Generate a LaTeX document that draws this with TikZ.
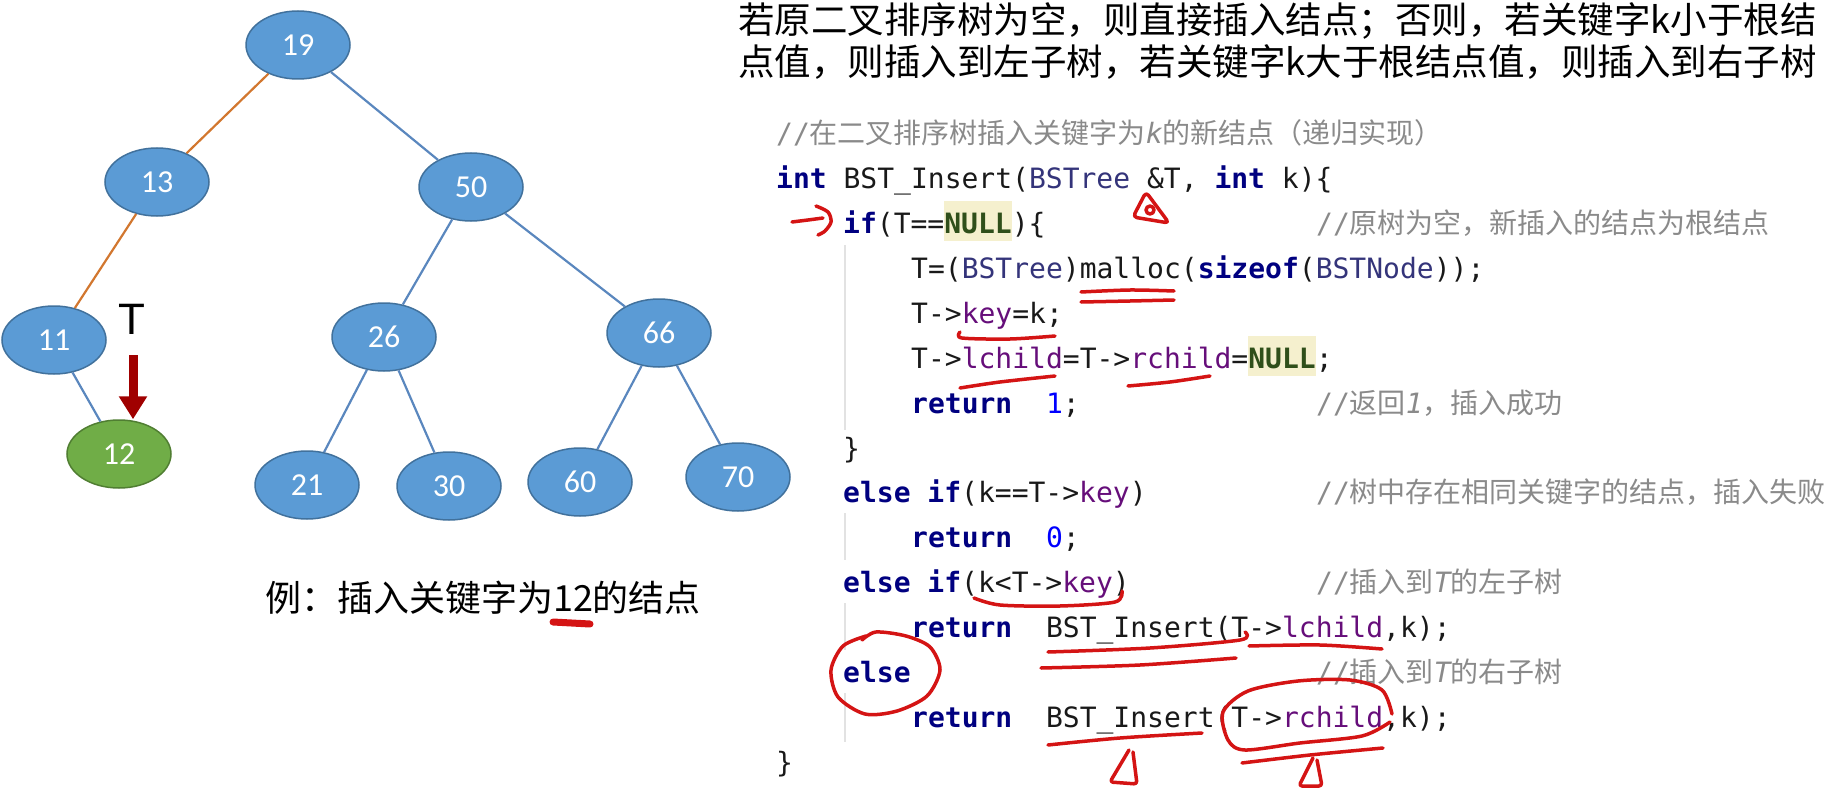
\documentclass[tikz,border=0pt]{standalone}
\usepackage{fontspec}
\newfontfamily\cjk{Noto Sans CJK SC}
\newfontfamily\codefont{DejaVu Sans Mono}
\newfontfamily\numfont{Carlito}
\newfontfamily\labfont{Liberation Sans}
\usetikzlibrary{shapes.geometric}
\usetikzlibrary{arrows.meta}

\definecolor{nodeblue}{HTML}{5B9BD5}
\definecolor{nodeline}{HTML}{41719C}
\definecolor{nodegreen}{HTML}{70AD47}
\definecolor{greenline}{HTML}{507E32}
\definecolor{edgeblue}{HTML}{5A87BE}
\definecolor{edgeorange}{HTML}{D2772F}
\definecolor{arrowred}{HTML}{A00000}
\definecolor{penred}{HTML}{D41414}
\definecolor{kwcol}{HTML}{000080}
\definecolor{tycol}{HTML}{34347A}
\definecolor{fdcol}{HTML}{660E7A}
\definecolor{numcol}{HTML}{0000FF}
\definecolor{nullcol}{HTML}{2F4F1A}
\definecolor{nullbg}{HTML}{F5F0CE}
\definecolor{cmtcol}{HTML}{8A8A8A}
\definecolor{guidecol}{HTML}{E2E2E2}

\begin{document}
\begin{tikzpicture}[x=1pt,y=-1pt,
    bnode/.style={ellipse,draw=nodeline,line width=1.5pt,fill=nodeblue,minimum width=104pt,minimum height=68pt,inner sep=0pt,text=white,font=\numfont\fontsize{32}{34}\selectfont},
    gnode/.style={bnode,draw=greenline,fill=nodegreen},
    bedge/.style={edgeblue,line width=2.2pt},
    oedge/.style={edgeorange,line width=2.2pt},
    tlabel/.style={anchor=base,inner sep=0pt,font=\labfont\fontsize{44}{46}\selectfont},
    tarrow/.style={arrowred,line width=9pt,-{Triangle[width=27pt,length=23pt]}},
    toptext/.style={anchor=base west,inner sep=0pt,font=\cjk\fontsize{36.5}{38}\selectfont},
    caption/.style={anchor=base,inner sep=0pt,font=\cjk\fontsize{36}{38}\selectfont},
    code/.style={anchor=base west,inner sep=0pt,text=black!90,font=\codefont\fontsize{28}{30}\selectfont},
    cmnt/.style={anchor=base west,inner sep=0pt,text=cmtcol,font=\cjk\fontsize{28}{30}\selectfont},
    guide/.style={guidecol,line width=1.5pt},
    redpen/.style={penred,line width=3.5pt,line cap=round,line join=round}]
    \def\kwd#1{{\bfseries\color{kwcol}#1}}
    \def\tyn#1{{\color{tycol}#1}}
    \def\fld#1{{\color{fdcol}#1}}
    \def\numv#1{{\color{numcol}#1}}
    \def\nullv{{\setlength{\fboxsep}{0pt}\colorbox{nullbg}{\rule[-8pt]{0pt}{40pt}\bfseries\color{nullcol}NULL}}}
    \def\sl{{\codefont //}}

    \useasboundingbox (0,0) rectangle (1837,789);

    % Draw the tree
    \node[bnode] (n19) at (298,45) {19};
    \node[bnode] (n13) at (157,182) {13};
    \node[bnode] (n50) at (471,187) {50};
    \node[bnode] (n11) at (54,340) {11};
    \node[gnode] (n12) at (119,454) {12};
    \node[bnode] (n26) at (384,337) {26};
    \node[bnode] (n66) at (659,333) {66};
    \node[bnode] (n21) at (307,485) {21};
    \node[bnode] (n30) at (449,486) {30};
    \node[bnode] (n60) at (580,482) {60};
    \node[bnode] (n70) at (738,477) {70};

    \draw[oedge] (n19) -- (n13);
    \draw[oedge] (n13) -- (n11);
    \draw[bedge] (n19) -- (n50);
    \draw[bedge] (n11) -- (n12);
    \draw[bedge] (n50) -- (n26);
    \draw[bedge] (n50) -- (n66);
    \draw[bedge] (n26) -- (n21);
    \draw[bedge] (n26) -- (n30);
    \draw[bedge] (n66) -- (n60);
    \draw[bedge] (n66) -- (n70);

    % Pointer T
    \node[tlabel] (lblT) at (132,334) {T};
    \coordinate (tstart) at (133,355);
    \draw[tarrow] (tstart) -- (tstart |- n12.north);

    \node[caption] (cap) at (483,611) {例：插入关键字为12的结点};

    % Text above the code
    \node[toptext] (top1) at (738,34) {若原二叉排序树为空，则直接插入结点；否则，若关键字k小于根结};
    \node[toptext] (top2) at (738,76) {点值，则插入到左子树，若关键字k大于根结点值，则插入到右子树};

    % Indent guides
    \draw[guide] (845,245) -- (845,430);
    \draw[guide] (845,513) -- (845,560);
    \draw[guide] (845,603) -- (845,650);
    \draw[guide] (845,693) -- (845,742);

    % The code
    \node[cmnt] (c0) at (776,144) {\sl 在二叉排序树插入关键字为{\codefont\itshape k}的新结点（递归实现）};
    \node[code] (c1) at (776,188) {\kwd{int} BST\_Insert(\tyn{BSTree} \&T, \kwd{int} k)\{};
    \node[code] (c2) at (843,233) {\kwd{if}(T==\nullv)\{};
    \node[code] (c3) at (911,278) {T=(\tyn{BSTree})malloc(\kwd{sizeof}(\tyn{BSTNode}));};
    \node[code] (c4) at (911,323) {T->\fld{key}=k;};
    \node[code] (c5) at (911,368) {T->\fld{lchild}=T->\fld{rchild}=\nullv;};
    \node[code] (c6) at (911,413) {\kwd{return}~~\numv{1};};
    \node[code] (c7) at (843,458) {\}};
    \node[code] (c8) at (843,502) {\kwd{else} \kwd{if}(k==T->\fld{key})};
    \node[code] (c9) at (911,547) {\kwd{return}~~\numv{0};};
    \node[code] (c10) at (843,592) {\kwd{else} \kwd{if}(k<T->\fld{key})};
    \node[code] (c11) at (911,637) {\kwd{return}~~BST\_Insert(T->\fld{lchild},k);};
    \node[code] (c12) at (843,682) {\kwd{else}};
    \node[code] (c13) at (911,727) {\kwd{return}~~BST\_Insert(T->\fld{rchild},k);};
    \node[code] (c14) at (776,772) {\}};

    % Comments of the code
    \node[cmnt] (m2) at (1316,233) {\sl 原树为空，新插入的结点为根结点};
    \node[cmnt] (m6) at (1316,413) {\sl 返回{\codefont\itshape 1}，插入成功};
    \node[cmnt] (m8) at (1316,502) {\sl 树中存在相同关键字的结点，插入失败};
    \node[cmnt] (m10) at (1316,592) {\sl 插入到{\codefont\itshape T}的左子树};
    \node[cmnt] (m12) at (1316,682) {\sl 插入到{\codefont\itshape T}的右子树};

    % Red pen marks
    \draw[redpen] plot[smooth] coordinates {(792,222) (808,220) (823,218)};
    \draw[redpen] plot[smooth] coordinates {(816,206) (828,212) (831,222) (825,231) (818,235)};
    \draw[redpen,rounded corners=4pt] (1146,192) -- (1133,217) -- (1169,223) -- cycle;
    \draw[redpen] (1150,210) circle (4);
    \draw[redpen] plot[smooth] coordinates {(1081,292) (1130,290) (1174,291)};
    \draw[redpen] plot[smooth] coordinates {(1081,302) (1130,301) (1174,300)};
    \draw[redpen] plot[smooth] coordinates {(960,332) (962,338) (1010,339) (1055,336)};
    \draw[redpen] plot[smooth] coordinates {(960,388) (1000,382) (1055,376)};
    \draw[redpen] plot[smooth] coordinates {(1128,386) (1170,382) (1210,376)};
    \draw[redpen] plot[smooth] coordinates {(974,598) (1000,605) (1060,606) (1115,602) (1122,591)};
    \draw[redpen] plot[smooth] coordinates {(1048,652) (1150,648) (1240,640) (1245,632)};
    \draw[redpen] plot[smooth] coordinates {(1249,646) (1320,645) (1382,649)};
    \draw[redpen] plot[smooth] coordinates {(1041,668) (1140,665) (1236,658)};
    \draw[redpen] plot[smooth] coordinates {(866,636) (843,646) (831,670) (838,697) (865,714) (897,711) (927,696) (940,670) (930,647) (906,636) (876,632) (862,640)};
    \draw[redpen] plot[smooth] coordinates {(1392,714) (1382,690) (1350,680) (1298,681) (1248,691) (1223,712) (1228,740) (1245,750) (1300,743) (1362,736) (1390,722)};
    \draw[redpen] plot[smooth] coordinates {(1048,745) (1120,738) (1202,733)};
    \draw[redpen] plot[smooth] coordinates {(1242,763) (1310,755) (1383,748)};
    \draw[redpen,rounded corners=3pt] (1129,750) -- (1110,782) -- (1137,784) -- (1133,752);
    \draw[redpen,rounded corners=3pt] (1313,758) -- (1299,786) -- (1322,786) -- (1317,760);
    \draw[redpen,line width=7pt] (553,622) -- (590,624);
\end{tikzpicture}
\end{document}
